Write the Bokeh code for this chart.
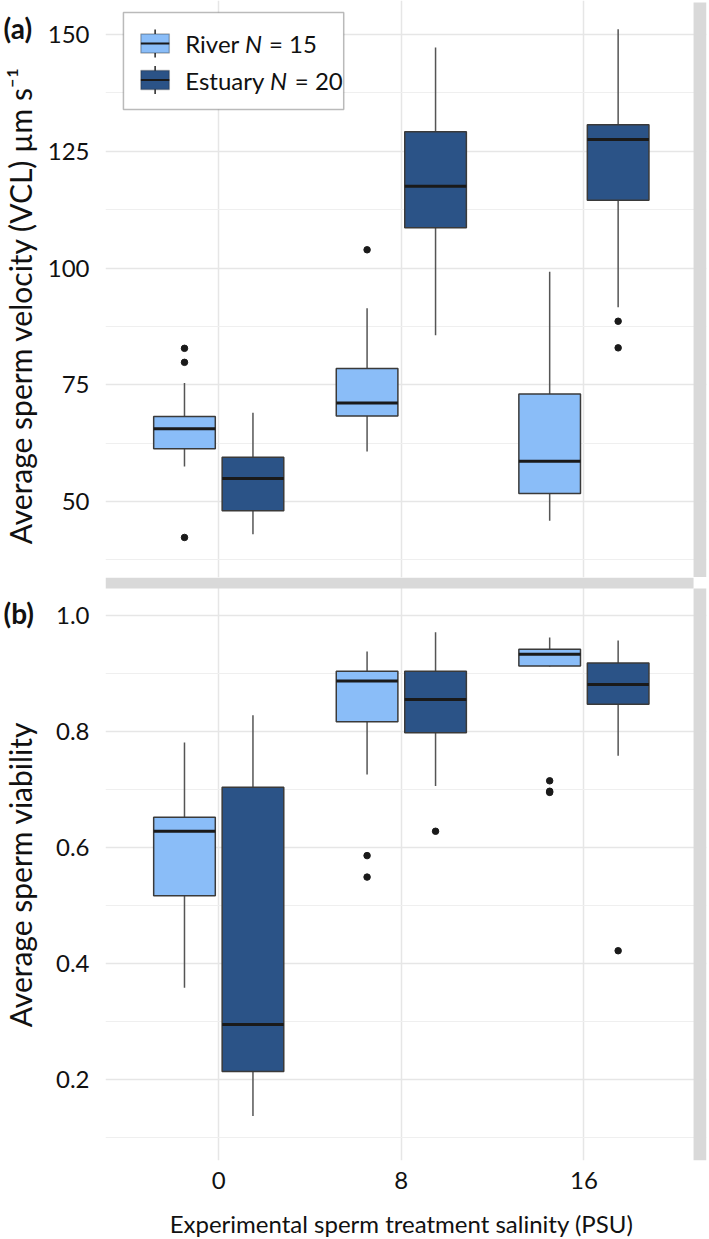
import math
from bokeh.plotting import figure
from bokeh.models import (Range1d, FixedTicker, BoxAnnotation, Label,
                          ColumnDataSource, NumeralTickFormatter)
from bokeh.layouts import column, row
from bokeh.embed import file_html
from bokeh.resources import INLINE

# ---------------- data ----------------
salinity_labels = ["0", "8", "16"]
group_names = ["River", "Estuary"]
group_n = [15, 20]

vcl_river_low = [57.5, 60.7, 45.9]
vcl_river_q1 = [61.3, 68.3, 51.7]
vcl_river_median = [65.6, 71.1, 58.6]
vcl_river_q3 = [68.2, 78.5, 73.0]
vcl_river_high = [75.4, 91.4, 99.2]
vcl_river_outliers = [[82.8, 79.8, 42.3], [103.9], []]

vcl_estuary_low = [43.0, 85.6, 91.6]
vcl_estuary_q1 = [48.0, 108.6, 114.5]
vcl_estuary_median = [54.9, 117.5, 127.5]
vcl_estuary_q3 = [59.5, 129.2, 130.7]
vcl_estuary_high = [69.0, 147.2, 151.1]
vcl_estuary_outliers = [[], [], [88.6, 82.9]]

via_river_low = [0.358, 0.726, 0.912]
via_river_q1 = [0.517, 0.817, 0.913]
via_river_median = [0.628, 0.887, 0.933]
via_river_q3 = [0.652, 0.904, 0.942]
via_river_high = [0.781, 0.938, 0.962]
via_river_outliers = [[], [0.586, 0.549], [0.715, 0.697, 0.695]]

via_estuary_low = [0.137, 0.706, 0.758]
via_estuary_q1 = [0.214, 0.798, 0.847]
via_estuary_median = [0.295, 0.855, 0.881]
via_estuary_q3 = [0.704, 0.904, 0.918]
via_estuary_high = [0.828, 0.971, 0.957]
via_estuary_outliers = [[], [0.628], [0.422]]

vcl_ticks = [50, 75, 100, 125, 150]
vcl_minor = [37.5, 62.5, 87.5, 112.5, 137.5]
via_ticks = [0.2, 0.4, 0.6, 0.8, 1.0]
via_minor = [0.1, 0.3, 0.5, 0.7, 0.9]

# ---------------- styling / geometry ----------------
RIVER_FILL = "#8ABDF8"
ESTUARY_FILL = "#2B5387"
STRIP = "#D9D9D9"
GRID_MAJOR = "#E6E6E6"
GRID_MINOR = "#EFEFEF"
FONT = "Lato"
TEXT = "#111111"
BOX_W = 0.3375
DODGE = 0.1875

PAGE_W, PAGE_H = 709, 1239
LEFT_W = 44                 # strip of canvas holding panel tags and y titles
FRAME_L, FRAME_R = 103, 706
STRIP_X = 693
PX_PER_X = 183.2
X1_PX = 216.6
XS = 1 - (X1_PX - FRAME_L) / PX_PER_X
XE = XS + (FRAME_R - FRAME_L) / PX_PER_X

T_TOP, T_BOT = 0, 577
B_TOP, B_STRIP, B_BOT, B_AXIS = 577, 588, 1160, 36
T_REF_V, T_REF_PX, T_PPU = 150.0, 34.0, 4.67
B_REF_V, B_REF_PX, B_PPU = 1.0, 615.0, 580.0


def xp(px):
    return XS + (px - FRAME_L) / PX_PER_X


def y1p(py):
    return T_REF_V - (py - T_REF_PX) / T_PPU


def y2p(py):
    return B_REF_V - (py - B_REF_PX) / B_PPU


X_RANGE = Range1d(XS, XE)


def make_fig(height, y0, y1, ticks, minor, bottom_border, with_xaxis):
    p = figure(width=PAGE_W - LEFT_W, height=height,
               x_range=X_RANGE, y_range=Range1d(y0, y1),
               output_backend="svg", toolbar_location=None,
               x_axis_location="below" if with_xaxis else None,
               min_border_left=FRAME_L - LEFT_W, min_border_right=PAGE_W - FRAME_R,
               min_border_top=0, min_border_bottom=bottom_border)
    p.outline_line_color = None
    p.background_fill_color = "white"
    p.border_fill_color = "white"
    yax = p.yaxis[0]
    yax.ticker = FixedTicker(ticks=ticks, minor_ticks=minor)
    yax.axis_line_color = None
    yax.major_tick_line_color = None
    yax.minor_tick_line_color = None
    yax.major_label_text_font = FONT
    yax.major_label_text_font_size = "24px"
    yax.major_label_text_color = TEXT
    yax.major_label_standoff = 10
    p.ygrid.ticker = FixedTicker(ticks=ticks, minor_ticks=minor)
    p.ygrid.grid_line_color = GRID_MAJOR
    p.ygrid.grid_line_width = 1.5
    p.ygrid.minor_grid_line_color = GRID_MINOR
    p.ygrid.minor_grid_line_width = 1.0
    p.xgrid.ticker = FixedTicker(ticks=[1, 2, 3])
    p.xgrid.grid_line_color = GRID_MAJOR
    p.xgrid.grid_line_width = 1.5
    return p


def draw_boxes(p, offset, low, q1, med, q3, high, outliers, fill):
    xs = [i + 1 + offset for i in range(len(low))]
    src = ColumnDataSource(dict(
        x=xs, xl=[x - BOX_W / 2 for x in xs], xr=[x + BOX_W / 2 for x in xs],
        low=low, q1=q1, med=med, q3=q3, high=high))
    p.segment(x0="x", y0="q3", x1="x", y1="high", source=src,
              line_color="#555555", line_width=1.5)
    p.segment(x0="x", y0="low", x1="x", y1="q1", source=src,
              line_color="#555555", line_width=1.5)
    p.vbar(x="x", width=BOX_W, bottom="q1", top="q3", source=src,
           fill_color=fill, line_color="#3A3A3A", line_width=1.5)
    p.segment(x0="xl", y0="med", x1="xr", y1="med", source=src,
              line_color="#1A1A1A", line_width=3)
    ox, oy = [], []
    for x, vals in zip(xs, outliers):
        for v in vals:
            ox.append(x)
            oy.append(v)
    p.scatter(x=ox, y=oy, size=6.5, color="#1A1A1A")


# ---------------- panel (a) ----------------
p1 = make_fig(T_BOT - T_TOP, y1p(T_BOT), y1p(T_TOP), vcl_ticks, vcl_minor, 0, False)
draw_boxes(p1, -DODGE, vcl_river_low, vcl_river_q1, vcl_river_median,
           vcl_river_q3, vcl_river_high, vcl_river_outliers, RIVER_FILL)
draw_boxes(p1, DODGE, vcl_estuary_low, vcl_estuary_q1, vcl_estuary_median,
           vcl_estuary_q3, vcl_estuary_high, vcl_estuary_outliers, ESTUARY_FILL)
p1.add_layout(BoxAnnotation(left=xp(STRIP_X), top=y1p(2), fill_color=STRIP,
                            fill_alpha=1.0, line_color=None))

# legend (drawn by hand so that N can be italic)
p1.add_layout(BoxAnnotation(left=xp(121), right=xp(342), top=y1p(12), bottom=y1p(109),
                            fill_color="white", fill_alpha=1.0,
                            line_color="#1A1A1A", line_width=1.5))
key_rows = [(43.0, RIVER_FILL), (79.5, ESTUARY_FILL)]
piece_x = [(183, 243, 267), (183, 268, 293)]
for (cy, fill), name, n, (tx, nx, ex) in zip(key_rows, group_names, group_n, piece_x):
    p1.add_layout(BoxAnnotation(left=xp(152), right=xp(153.6), top=y1p(cy - 14),
                                bottom=y1p(cy + 14), fill_color="#333333",
                                fill_alpha=1.0, line_color=None))
    p1.add_layout(BoxAnnotation(left=xp(138.5), right=xp(167), top=y1p(cy - 9.5),
                                bottom=y1p(cy + 9.5), fill_color=fill, fill_alpha=1.0,
                                line_color="#1A1A1A", line_width=1.5))
    p1.add_layout(BoxAnnotation(left=xp(138.5), right=xp(167), top=y1p(cy - 1),
                                bottom=y1p(cy + 1), fill_color="#1A1A1A",
                                fill_alpha=1.0, line_color=None))
    for txt, px, style in [(name, tx, "normal"), ("N", nx, "italic"),
                           ("= %d" % n, ex, "normal")]:
        p1.add_layout(Label(x=xp(px), y=y1p(cy), text=txt, text_font=FONT,
                            text_font_size="24px", text_font_style=style,
                            text_align="left", text_baseline="middle",
                            text_color=TEXT))

# ---------------- panel (b) ----------------
p2 = make_fig(B_BOT - B_TOP + B_AXIS, y2p(B_BOT), y2p(B_TOP), via_ticks, via_minor,
              B_AXIS, True)
p2.yaxis[0].formatter = NumeralTickFormatter(format="0.0")
xax = p2.xaxis[0]
xax.ticker = FixedTicker(ticks=[1, 2, 3])
xax.major_label_overrides = {i + 1: lab for i, lab in enumerate(salinity_labels)}
xax.axis_line_color = None
xax.major_tick_line_color = None
xax.minor_tick_line_color = None
xax.major_label_text_font = FONT
xax.major_label_text_font_size = "24px"
xax.major_label_text_color = TEXT
xax.major_label_standoff = 5

draw_boxes(p2, -DODGE, via_river_low, via_river_q1, via_river_median,
           via_river_q3, via_river_high, via_river_outliers, RIVER_FILL)
draw_boxes(p2, DODGE, via_estuary_low, via_estuary_q1, via_estuary_median,
           via_estuary_q3, via_estuary_high, via_estuary_outliers, ESTUARY_FILL)
p2.add_layout(BoxAnnotation(bottom=y2p(B_STRIP), right=xp(STRIP_X), fill_color=STRIP,
                            fill_alpha=1.0, line_color=None))
p2.add_layout(BoxAnnotation(left=xp(STRIP_X), top=y2p(B_STRIP), fill_color=STRIP,
                            fill_alpha=1.0, line_color=None))

# ---------------- x title strip ----------------
X_TITLE_TOP = B_BOT + B_AXIS
p3 = figure(width=PAGE_W - LEFT_W, height=PAGE_H - X_TITLE_TOP,
            x_range=X_RANGE, y_range=Range1d(0, PAGE_H - X_TITLE_TOP),
            output_backend="svg", toolbar_location=None,
            x_axis_location=None, y_axis_location=None,
            min_border_left=FRAME_L - LEFT_W, min_border_right=PAGE_W - FRAME_R,
            min_border_top=0, min_border_bottom=0)
p3.outline_line_color = None
p3.grid.visible = False
p3.add_layout(Label(x=xp(400), y=(PAGE_H - X_TITLE_TOP) / 2 - 5,
                    text="Experimental sperm treatment salinity (PSU)",
                    text_font=FONT, text_font_size="24px",
                    text_align="center", text_baseline="middle", text_color=TEXT))

# ---------------- left strip: panel tags and y titles ----------------
pl = figure(width=LEFT_W, height=PAGE_H, x_range=Range1d(0, LEFT_W),
            y_range=Range1d(0, PAGE_H), output_backend="svg", toolbar_location=None,
            x_axis_location=None, y_axis_location=None,
            min_border_left=0, min_border_right=0, min_border_top=0, min_border_bottom=0)
pl.outline_line_color = None
pl.grid.visible = False
for tag, py in [("(a)", 27), ("(b)", 612)]:
    pl.add_layout(Label(x=3, y=PAGE_H - py, text=tag, text_font=FONT,
                        text_font_size="28px", text_font_style="bold",
                        text_align="left", text_baseline="middle", text_color=TEXT))
for title, py in [("Average sperm velocity (VCL) µm s⁻¹", 305),
                  ("Average sperm viability", 874)]:
    pl.add_layout(Label(x=19, y=PAGE_H - py, text=title, angle=math.pi / 2,
                        text_font=FONT, text_font_size="30px",
                        text_align="center", text_baseline="middle", text_color=TEXT))

layout = row(pl, column(p1, p2, p3, spacing=0), spacing=0)
open("out.html", "w").write(file_html(layout, INLINE))
